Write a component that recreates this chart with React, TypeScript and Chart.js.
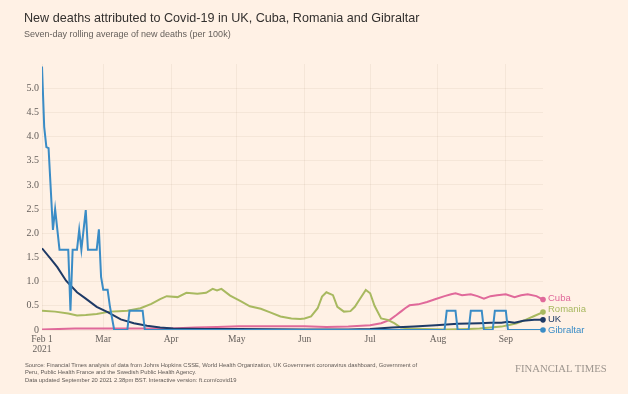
import React, { useEffect, useRef } from 'react';
import { Chart, registerables } from 'chart.js';

Chart.register(...registerables);

// Day index: 0 = 1 Feb 2021
const monthTickDays = [0, 28, 59, 89, 120, 150, 181, 212];
const monthTickLabels: (string | string[])[] = [['Feb 1', '2021'], 'Mar', 'Apr', 'May', 'Jun', 'Jul', 'Aug', 'Sep'];
const yTickValues = [0, 0.5, 1, 1.5, 2, 2.5, 3, 3.5, 4, 4.5, 5];

const seriesNames = ['Gibraltar', 'UK', 'Romania', 'Cuba'];
const seriesColors = ['#3a8cc6', '#1e3a66', '#a8b960', '#e0699a'];

const gibraltar: [number, number][] = [
  [0, 5.45], [1, 4.2], [2, 3.78], [3, 3.76], [5, 2.07], [6, 2.5], [8, 1.66], [12, 1.66],
  [13, 0.4], [14, 1.66], [16, 1.66], [17, 2.07], [18, 1.66], [20, 2.48], [21, 1.66],
  [25, 1.66], [26, 2.08], [27, 1.1], [28, 0.83], [30, 0.83], [31, 0.5], [33, 0],
  [39, 0], [40, 0.4], [46, 0.4], [47, 0],
  [184, 0], [185, 0.4], [189, 0.4], [190, 0],
  [195, 0], [196, 0.4], [201, 0.4], [202, 0],
  [206, 0], [207, 0.4], [212, 0.4], [213, 0], [229, 0],
];

const uk: [number, number][] = [
  [0, 1.69], [4, 1.47], [7, 1.3], [11, 1.02], [16, 0.78], [20, 0.65], [25, 0.48], [30, 0.37],
  [36, 0.22], [42, 0.14], [48, 0.09], [54, 0.05], [60, 0.03], [75, 0.02], [90, 0.02],
  [120, 0.01], [140, 0.01], [150, 0.02], [160, 0.05], [170, 0.07], [180, 0.1], [190, 0.13],
  [200, 0.14], [205, 0.15], [210, 0.15], [213, 0.17], [216, 0.15], [220, 0.19], [225, 0.21], [229, 0.21],
];

const romania: [number, number][] = [
  [0, 0.4], [6, 0.38], [12, 0.34], [16, 0.3], [20, 0.31], [25, 0.33], [31, 0.38], [35, 0.39],
  [39, 0.4], [45, 0.45], [50, 0.54], [54, 0.64], [57, 0.7], [62, 0.68], [66, 0.77], [71, 0.75],
  [75, 0.77], [78, 0.85], [80, 0.82], [82, 0.85], [86, 0.71], [91, 0.59], [95, 0.49], [100, 0.44],
  [104, 0.37], [109, 0.28], [114, 0.24], [118, 0.23], [120, 0.24], [123, 0.28], [126, 0.45],
  [128, 0.69], [130, 0.78], [133, 0.72], [135, 0.48], [138, 0.38], [141, 0.39], [143, 0.48],
  [145, 0.62], [148, 0.83], [150, 0.76], [152, 0.5], [155, 0.24], [158, 0.21], [161, 0.14],
  [164, 0.05], [168, 0.03], [175, 0.02], [185, 0.01], [195, 0.02], [200, 0.03], [205, 0.05],
  [210, 0.07], [214, 0.11], [217, 0.14], [221, 0.21], [225, 0.29], [229, 0.37],
];

const cuba: [number, number][] = [
  [0, 0.01], [15, 0.03], [30, 0.03], [45, 0.03], [59, 0.03], [70, 0.05], [80, 0.06], [90, 0.08],
  [100, 0.08], [110, 0.08], [120, 0.08], [130, 0.06], [140, 0.07], [150, 0.1], [155, 0.14],
  [159, 0.21], [162, 0.31], [164, 0.38], [166, 0.45], [168, 0.51], [172, 0.53], [176, 0.58],
  [180, 0.64], [184, 0.7], [187, 0.74], [189, 0.76], [192, 0.72], [196, 0.74], [199, 0.7],
  [202, 0.65], [205, 0.7], [208, 0.72], [212, 0.74], [216, 0.68], [219, 0.72], [222, 0.74],
  [226, 0.7], [229, 0.63],
];

const seriesData = [gibraltar, uk, romania, cuba];

const endLabels = {
  id: 'endLabels',
  afterDatasetsDraw(chart: any) {
    const ctx = chart.ctx;
    const items = chart.data.datasets.map((ds: any, i: number) => {
      const meta = chart.getDatasetMeta(i);
      const pt = meta.data[meta.data.length - 1];
      return { x: pt.x, y: pt.y, ly: pt.y, label: ds.label, color: ds.borderColor };
    });
    ctx.save();
    items.forEach((it: any) => {
      ctx.beginPath();
      ctx.arc(it.x, it.y, 2.8, 0, Math.PI * 2);
      ctx.fillStyle = it.color;
      ctx.fill();
    });
    const sorted = [...items].sort((a: any, b: any) => b.y - a.y);
    let prev = Infinity;
    sorted.forEach((it: any) => {
      it.ly = Math.min(it.y, prev - 10.5);
      prev = it.ly;
    });
    ctx.font = '9.5px "Liberation Sans", Arial, sans-serif';
    ctx.textBaseline = 'middle';
    ctx.textAlign = 'left';
    items.forEach((it: any) => {
      ctx.fillStyle = it.color;
      ctx.fillText(it.label, it.x + 5, it.ly);
    });
    ctx.restore();
  },
};

export default function App() {
  const canvasRef = useRef<HTMLCanvasElement | null>(null);

  useEffect(() => {
    document.body.style.margin = '0';
    const canvas = canvasRef.current;
    if (!canvas) return;
    const chart = new Chart(canvas, {
      type: 'line',
      data: {
        datasets: seriesNames.map((name, i) => ({
          label: name,
          data: seriesData[i].map(([d, v]) => ({ x: d, y: v })),
          borderColor: seriesColors[i],
          backgroundColor: seriesColors[i],
          borderWidth: 2,
          pointRadius: 0,
          tension: 0,
          fill: false,
        })),
      },
      options: {
        responsive: false,
        animation: false,
        devicePixelRatio: 1,
        layout: { padding: { left: 0, top: 64, right: 85, bottom: 0 } },
        plugins: {
          legend: { display: false },
          tooltip: { enabled: false },
        },
        scales: {
          x: {
            type: 'linear',
            min: 0,
            max: 229,
            afterBuildTicks: (scale: any) => {
              scale.ticks = monthTickDays.map((v) => ({ value: v }));
            },
            afterFit: (scale: any) => {
              scale.height = 64;
            },
            ticks: {
              autoSkip: false,
              maxRotation: 0,
              padding: 5,
              color: '#66605c',
              font: { family: '"Liberation Serif", "Times New Roman", serif', size: 9.5, lineHeight: 1.0 },
              callback: (_v: any, i: number) => monthTickLabels[i],
            },
            grid: { color: 'rgba(110, 80, 50, 0.07)', drawTicks: false },
            border: { display: false },
          },
          y: {
            type: 'linear',
            min: 0,
            max: 5.5,
            afterBuildTicks: (scale: any) => {
              scale.ticks = yTickValues.map((v) => ({ value: v }));
            },
            afterFit: (scale: any) => {
              scale.width = 42;
            },
            ticks: {
              padding: 3,
              color: '#66605c',
              font: { family: '"Liberation Serif", "Times New Roman", serif', size: 10 },
              callback: (v: any) => (v === 0 ? '0' : Number(v).toFixed(1)),
            },
            grid: { color: 'rgba(110, 80, 50, 0.07)', drawTicks: false },
            border: { display: false },
          },
        },
      },
      plugins: [endLabels],
    });
    return () => chart.destroy();
  }, []);

  return (
    <div
      style={{
        position: 'fixed',
        left: 0,
        top: 0,
        width: 628,
        height: 394,
        background: '#fff1e5',
        overflow: 'hidden',
        fontFamily: '"Liberation Sans", Arial, sans-serif',
      }}
    >
      <canvas ref={canvasRef} width={628} height={394} style={{ position: 'absolute', left: 0, top: 0 }} />
      <div style={{ position: 'absolute', left: 24, top: 11, fontSize: 12.6, color: '#33302e', whiteSpace: 'nowrap' }}>
        New deaths attributed to Covid-19 in UK, Cuba, Romania and Gibraltar
      </div>
      <div style={{ position: 'absolute', left: 24, top: 29, fontSize: 9, color: '#66605c', whiteSpace: 'nowrap' }}>
        Seven-day rolling average of new deaths (per 100k)
      </div>
      <div
        style={{
          position: 'absolute',
          left: 25,
          top: 362,
          fontSize: 5.8,
          lineHeight: '7.3px',
          color: '#5f5955',
          whiteSpace: 'nowrap',
        }}
      >
        <div>Source: Financial Times analysis of data from Johns Hopkins CSSE, World Health Organization, UK Government coronavirus dashboard, Government of</div>
        <div>Peru, Public Health France and the Swedish Public Health Agency.</div>
        <div>Data updated September 20 2021 2.38pm BST. Interactive version: ft.com/covid19</div>
      </div>
      <div
        style={{
          position: 'absolute',
          left: 515,
          top: 362,
          fontSize: 10.7,
          color: '#9e968f',
          fontFamily: '"Liberation Serif", "Times New Roman", serif',
          whiteSpace: 'nowrap',
        }}
      >
        FINANCIAL TIMES
      </div>
    </div>
  );
}
